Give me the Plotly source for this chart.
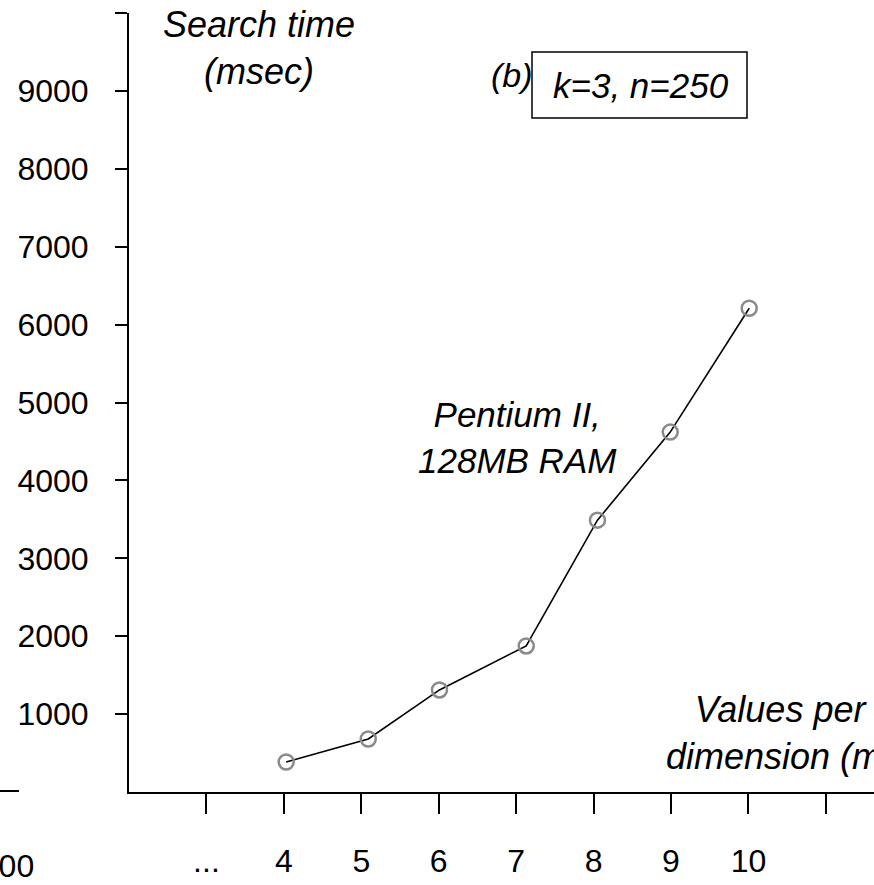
import plotly.graph_objects as go

# Data
x_values = [4.03, 5.09, 6.01, 7.13, 8.05, 8.99, 10.01]
search_ms = [385, 680, 1310, 1875, 3490, 4620, 6210]

x_tickvals = [3, 4, 5, 6, 7, 8, 9, 10, 11]
x_ticktext = ["...", "4", "5", "6", "7", "8", "9", "10", ""]
y_tickvals = [1000, 2000, 3000, 4000, 5000, 6000, 7000, 8000, 9000, 10000]
y_ticktext = ["1000", "2000", "3000", "4000", "5000", "6000", "7000", "8000", "9000", ""]

W, H = 874, 885
L, R, T, B = 129, 0, 13, 93
PW = W - L - R
PH = H - T - B


def px(xp):
    return (xp - L) / PW


def py(yp):
    return (H - B - yp) / PH


FONT = "Liberation Sans, Arial, sans-serif"

fig = go.Figure()
fig.add_trace(go.Scatter(
    x=x_values, y=search_ms, mode="lines+markers",
    line=dict(color="black", width=1.6),
    marker=dict(symbol="circle-open", size=15, color="#8a8a8a",
                line=dict(color="#8a8a8a", width=2.5)),
    showlegend=False, cliponaxis=False,
))

fig.update_layout(
    width=W, height=H,
    margin=dict(l=L, r=R, t=T, b=B, pad=0),
    paper_bgcolor="white", plot_bgcolor="white",
    font=dict(family=FONT, color="black", size=32),
    showlegend=False,
    xaxis=dict(
        range=[2, 2 + PW / 77.43], showgrid=False, zeroline=False,
        showline=True, linecolor="black", linewidth=2,
        ticks="outside", ticklen=20, tickwidth=1.5, tickcolor="black",
        tickvals=x_tickvals, ticktext=x_ticktext,
        tickfont=dict(size=32, family=FONT), ticklabelstandoff=20,
    ),
    yaxis=dict(
        range=[0, 10000], showgrid=False, zeroline=False,
        showline=True, linecolor="black", linewidth=2,
        ticks="outside", ticklen=12, tickwidth=1.5, tickcolor="black",
        tickvals=y_tickvals, ticktext=y_ticktext,
        tickfont=dict(size=32, family=FONT), ticklabelstandoff=20,
    ),
)


def it(size):
    return dict(family=FONT, size=size, color="black", style="italic")


annos = [
    dict(text="Search time<br>(msec)", x=px(259), y=py(48), font=it(36)),
    dict(text="(b)", x=px(512), y=py(75), font=it(34)),
    dict(text="k=3, n=250", x=px(641), y=py(85), font=it(35)),
    dict(text="Pentium II,<br>128MB RAM", x=px(517), y=py(437), font=it(35)),
    dict(text="Values per<br>dimension (m)", x=px(780), y=py(733), font=it(36)),
]
for a in annos:
    fig.add_annotation(xref="paper", yref="paper", showarrow=False,
                       xanchor="center", yanchor="middle", **a)

# fragment of neighbouring panel's tick label
fig.add_annotation(text="1000", xref="paper", yref="paper", x=px(36), y=py(866),
                   xanchor="right", yanchor="middle", showarrow=False,
                   font=dict(family=FONT, size=32, color="black"))

# box around parameters
fig.add_shape(type="rect", xref="paper", yref="paper",
              x0=px(532), x1=px(747), y0=py(118), y1=py(52),
              line=dict(color="black", width=1.5), fillcolor="rgba(0,0,0,0)")
# fragment of neighbouring panel's x axis
fig.add_shape(type="line", xref="paper", yref="paper",
              x0=px(-2), x1=px(19), y0=py(791), y1=py(791),
              line=dict(color="black", width=2))

fig.write_html("out.html")
